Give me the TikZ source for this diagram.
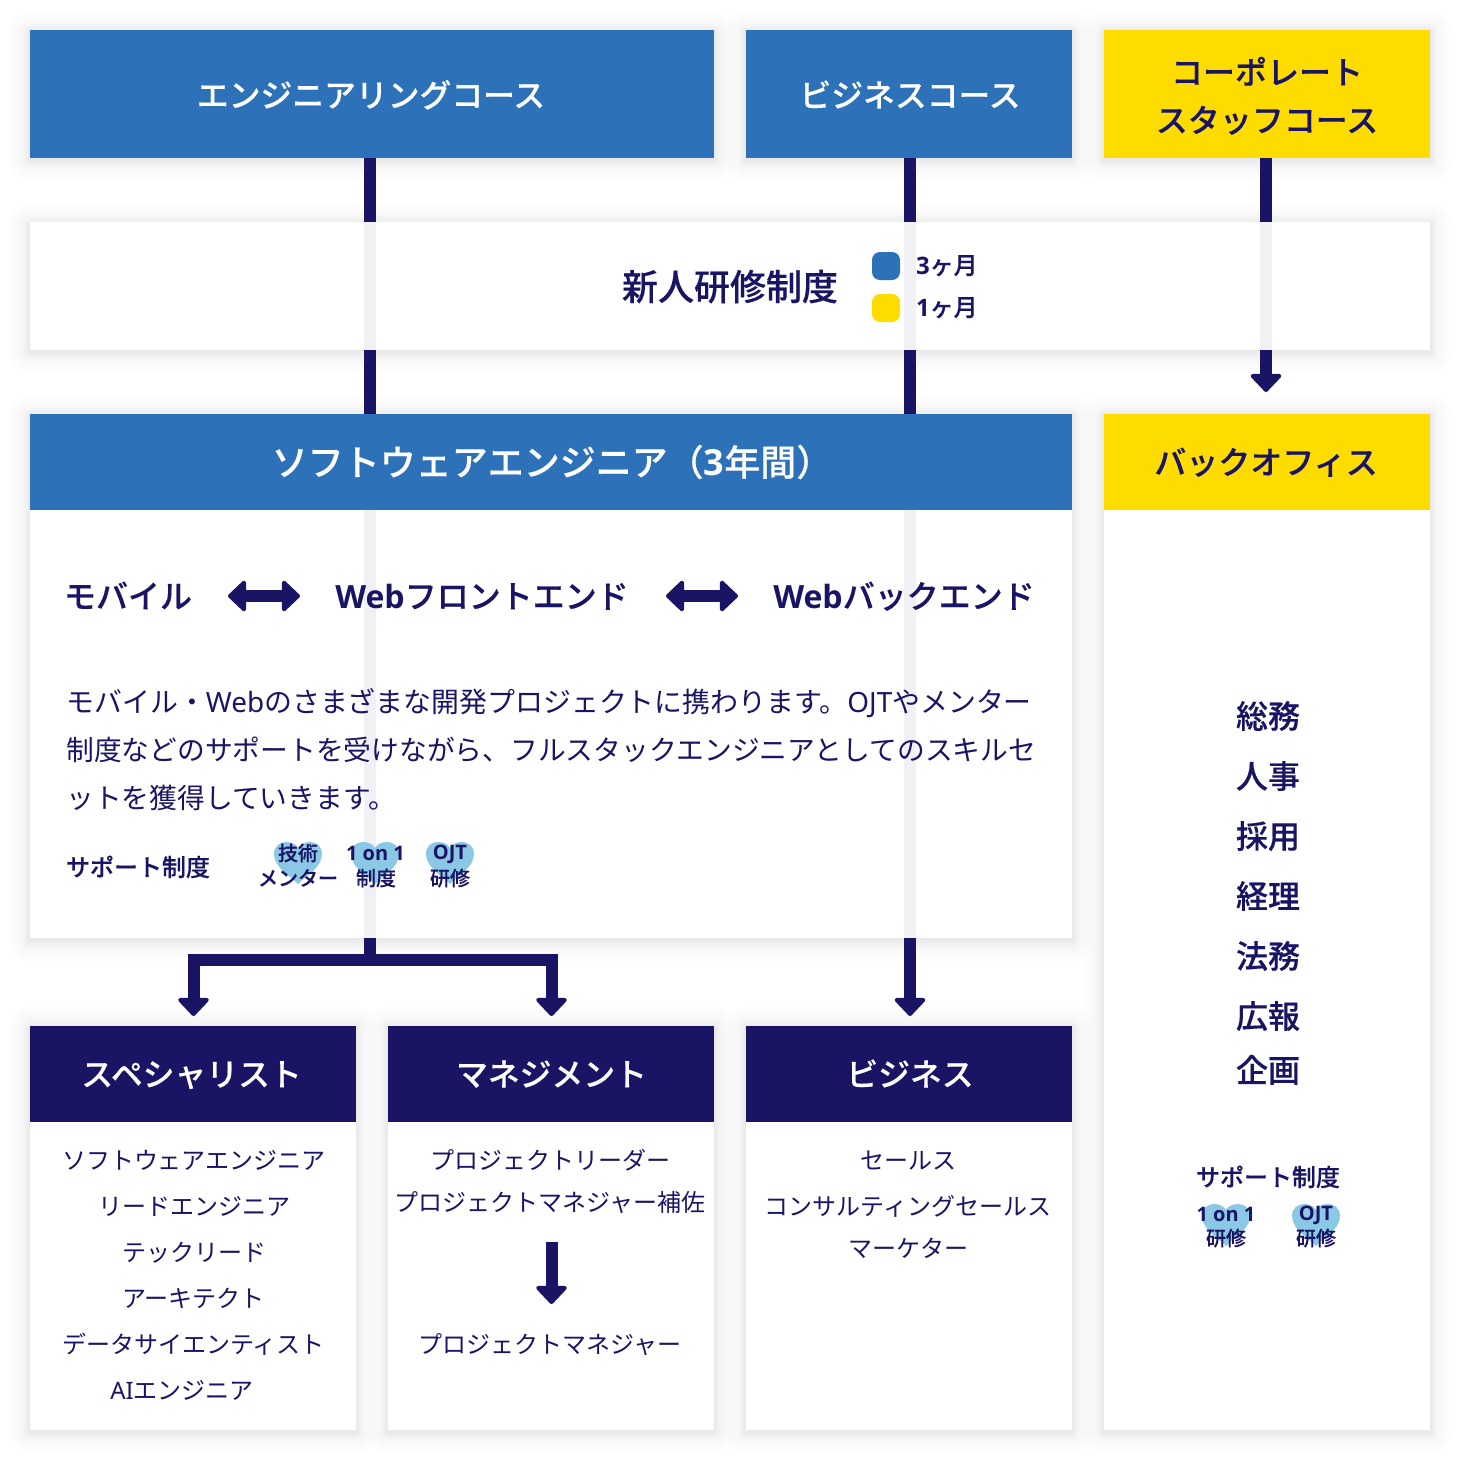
\documentclass[tikz,border=0pt]{standalone}
\usepackage{fontspec}
\usetikzlibrary{arrows.meta}
\setmainfont{Noto Sans CJK JP}[BoldFont={Noto Sans CJK JP Medium},BoldFeatures={FakeBold=0.3}]
\newfontfamily\lat{Noto Sans}
\newfontfamily\latb{Open Sans}
\definecolor{navy}{HTML}{1A1464}
\definecolor{blu}{HTML}{2D71B8}
\definecolor{yel}{HTML}{FFDC00}
\definecolor{sky}{HTML}{8AC8E5}
\newcommand{\fs}[1]{\fontsize{#1}{#1}\selectfont}
\newcommand{\lb}[1]{{\latb\bfseries #1}}
\newcommand{\emstrut}{\vrule width 0pt height .88em depth .12em\relax}
\newcommand{\softshadow}[4]{%
  \foreach \i in {1,2,3,4,5,6,8,10,13,17,21}{\fill[black,opacity=.0065,even odd rule] (#1,#2) rectangle (#3,#4)
    [rounded corners=\i*1pt] (#1-\i,#2-\i+2) rectangle (#3+\i,#4+\i+2);}}
\newcommand{\heart}[2]{%
  \fill[sky] (#1,#2+42) .. controls (#1-6,#2+35) and (#1-24,#2+26) .. (#1-24,#2+12)
    .. controls (#1-24,#2+4) and (#1-18,#2) .. (#1-12,#2)
    .. controls (#1-7,#2) and (#1-2,#2+2) .. (#1,#2+6)
    .. controls (#1+2,#2+2) and (#1+7,#2) .. (#1+12,#2)
    .. controls (#1+18,#2) and (#1+24,#2+4) .. (#1+24,#2+12)
    .. controls (#1+24,#2+26) and (#1+6,#2+35) .. (#1,#2+42) -- cycle;}
\tikzset{
  x=1pt,y=-1pt,
  box/.style={inner sep=0pt,outer sep=0pt,align=center,text width=#1,minimum width=#1},
  head/.style={box=#1,fill=blu},
  yhead/.style={box=#1,fill=yel},
  nhead/.style={box=#1,fill=navy},
  card/.style={box=#1,fill=white,fill opacity=.94,text opacity=1},
  lab/.style={inner sep=0pt,outer sep=0pt,text=navy,execute at begin node={\emstrut}},
  wlab/.style={lab,text=white,font=\fs{31.8}\bfseries},
  it/.style={lab,font=\fs{24}},
  big/.style={lab,font=\fs{32}\bfseries},
  sm/.style={lab,font=\fs{24}\bfseries},
  tiny/.style={lab,font=\fs{20}\bfseries},
  conn/.style={navy,line width=12pt},
  tip/.style={conn,-{Triangle[length=19pt,width=35pt,line width=4pt,round]}},
  tips/.style={conn,{Triangle[length=19pt,width=35pt,line width=4pt,round]}-{Triangle[length=19pt,width=35pt,line width=4pt,round]}},
}
\begin{document}
\begin{tikzpicture}
\useasboundingbox (0,0) rectangle (1460,1460);
\fill[white] (0,0) rectangle (1460,1460);
% shadows
\softshadow{30}{30}{714}{158}\softshadow{746}{30}{1072}{158}\softshadow{1104}{30}{1430}{158}
\softshadow{30}{222}{1430}{350}
\softshadow{30}{414}{1072}{938}\softshadow{1104}{414}{1430}{1430}
\softshadow{30}{1026}{356}{1430}\softshadow{388}{1026}{714}{1430}\softshadow{746}{1026}{1072}{1430}
% anchors of connectors
\coordinate (engOut) at (370,158);
\coordinate (bizOut) at (910,158);
\coordinate (corpOut) at (1266,158);
\coordinate (fork) at (370,960);
\coordinate (bizIn) at (910,1016);
\coordinate (corpIn) at (1266,392);
\coordinate (specIn) at (193.5,1016);
\coordinate (mgmtIn) at (551.5,1016);
% connectors that pass behind the cards
\draw[conn] (engOut) -- (fork);
\draw[tip] (fork) -| (specIn);
\draw[tip] (fork) -| (mgmtIn);
\draw[tip] (bizOut) -- (bizIn);
\draw[tip] (corpOut) -- (corpIn);
% pale cards
\node[card=1400pt,minimum height=128pt] (train) at (730,286) {};
\node[card=1042pt,minimum height=428pt] (swcard) at (551,724) {};
\node[card=326pt,minimum height=920pt] (bocard) at (1267,970) {};
\node[card=326pt,minimum height=308pt] (spcard) at (193,1276) {};
\node[card=326pt,minimum height=308pt] (mgcard) at (551,1276) {};
\node[card=326pt,minimum height=308pt] (bzcard) at (909,1276) {};
% headers
\node[head=684pt,minimum height=128pt] (eng) at (372,94) {};
\node[wlab] (engt) at (371,95) {エンジニアリングコース};
\node[head=326pt,minimum height=128pt] (biz) at (909,94) {};
\node[wlab] (bizt) at (910,95) {ビジネスコース};
\node[yhead=326pt,minimum height=128pt] (corp) at (1267,94) {};
\node[big] (corp1) at (1267,72) {コーポレート};
\node[big] (corp2) at (1267,120) {スタッフコース};
\node[head=1042pt,minimum height=96pt] (sw) at (551,462) {};
\node[wlab,font=\fs{36}\bfseries] (swt) at (552,462) {ソフトウェアエンジニア（\lb{3}年間）};
\node[yhead=326pt,minimum height=96pt] (bo) at (1267,462) {};
\node[big] (bot) at (1266,462) {バックオフィス};
\node[nhead=326pt,minimum height=96pt] (sp) at (193,1074) {};
\node[wlab] (spt) at (191.5,1074) {スペシャリスト};
\node[nhead=326pt,minimum height=96pt] (mg) at (551,1074) {};
\node[wlab] (mgt) at (551.5,1074) {マネジメント};
\node[nhead=326pt,minimum height=96pt] (bz) at (909,1074) {};
\node[wlab] (bzt) at (910,1074) {ビジネス};
% training row
\node[lab,font=\fs{36}\bfseries] (tr) at (730,286.5) {新人研修制度};
\fill[blu,rounded corners=8pt] (872,252) rectangle (900,280);
\fill[yel,rounded corners=8pt] (872,294) rectangle (900,322);
\node[sm,anchor=west] (m3) at (916,265) {\lb{3}ヶ月};
\node[sm,anchor=west] (m1) at (916,307) {\lb{1}ヶ月};
% tracks
\node[big] (mob) at (128,596) {モバイル};
\node[big] (fe) at (482,596) {\lb{Web}フロントエンド};
\node[big] (be) at (904,596) {\lb{Web}バックエンド};
\coordinate (a1) at (228,596);\coordinate (a2) at (300,596);
\coordinate (a3) at (666,596);\coordinate (a4) at (738,596);
\draw[tips] (a1) -- (a2);
\draw[tips] (a3) -- (a4);
% body
\node[lab,anchor=west,font=\fs{27.9}] (b1) at (66.5,702.5) {モバイル・{\lat Web}のさまざまな開発プロジェクトに携わります。{\lat OJT}やメンター};
\node[lab,anchor=west,font=\fs{27.74}] (b2) at (66.5,750) {制度などのサポートを受けながら、フルスタックエンジニアとしてのスキルセ};
\node[lab,anchor=west,font=\fs{27.74}] (b3) at (66.5,798) {ットを獲得していきます。};
% support
\node[sm] (s1) at (138,867) {サポート制度};
\heart{298}{842}\heart{375}{842}\heart{450}{842}
\node[tiny] (h1a) at (298,853) {技術};
\node[tiny] (h1b) at (298,878) {メンター};
\node[tiny] (h2a) at (375.5,853) {\lb{1 on 1}};
\node[tiny] (h2b) at (376,878) {制度};
\node[tiny] (h3a) at (450,852.5) {\lb{OJT}};
\node[tiny] (h3b) at (450,878) {研修};
% back office
\node[big] (o1) at (1268,716) {総務};
\node[big] (o2) at (1268,776) {人事};
\node[big] (o3) at (1268,836) {採用};
\node[big] (o4) at (1268,896) {経理};
\node[big] (o5) at (1268,956) {法務};
\node[big] (o6) at (1268,1016) {広報};
\node[big] (o7) at (1268,1070) {企画};
\node[sm] (s2) at (1268,1177) {サポート制度};
\heart{1226}{1204}\heart{1316}{1204}
\node[tiny] (r1a) at (1226,1214) {\lb{1 on 1}};
\node[tiny] (r1b) at (1226,1238) {研修};
\node[tiny] (r2a) at (1316,1214) {\lb{OJT}};
\node[tiny] (r2b) at (1316,1238) {研修};
% specialist list
\node[it] (p1) at (194,1160.7) {ソフトウェアエンジニア};
\node[it] (p2) at (194,1206.7) {リードエンジニア};
\node[it] (p3) at (194,1252.7) {テックリード};
\node[it] (p4) at (193.5,1298.7) {アーキテクト};
\node[it] (p5) at (193.5,1344.7) {データサイエンティスト};
\node[it] (p6) at (182,1390.7) {{\lat AI}エンジニア};
% management list
\node[it] (q1) at (550,1160.7) {プロジェクトリーダー};
\node[it] (q2) at (550,1202.7) {プロジェクトマネジャー補佐};
\node[it] (q3) at (550,1344.7) {プロジェクトマネジャー};
\coordinate (qa) at (551.5,1242);\coordinate (qb) at (551.5,1304);
\draw[tip] (qa) -- (qb);
% business list
\node[it] (r1) at (908,1160.7) {セールス};
\node[it] (r2) at (908,1206.7) {コンサルティングセールス};
\node[it] (r3) at (908,1248.7) {マーケター};
\end{tikzpicture}
\end{document}
